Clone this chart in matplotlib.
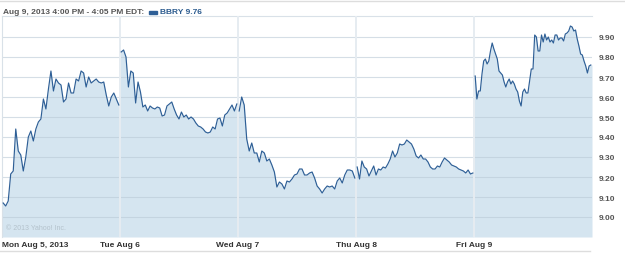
import numpy as np
import matplotlib
matplotlib.use('Agg')
import matplotlib.pyplot as plt

# BBRY 5-minute prices, one list per trading day
mon = [9.07, 9.055, 9.08, 9.215, 9.23, 9.44, 9.33, 9.31, 9.23, 9.30, 9.40, 9.43,
       9.38, 9.44, 9.475, 9.49, 9.59, 9.54, 9.64, 9.73, 9.63, 9.69, 9.67, 9.66,
       9.575, 9.59, 9.67, 9.62, 9.62, 9.69, 9.68, 9.73, 9.72, 9.65, 9.70, 9.67,
       9.68, 9.69, 9.675, 9.67, 9.675, 9.61, 9.555, 9.60, 9.62, 9.59, 9.56]
tue = [9.825, 9.835, 9.80, 9.65, 9.73, 9.72, 9.57, 9.675, 9.625, 9.55, 9.56, 9.53,
       9.555, 9.545, 9.54, 9.55, 9.545, 9.505, 9.51, 9.555, 9.565, 9.575, 9.54,
       9.51, 9.49, 9.525, 9.50, 9.51, 9.49, 9.50, 9.49, 9.47, 9.455, 9.45, 9.44,
       9.425, 9.42, 9.425, 9.45, 9.44, 9.49, 9.495, 9.455, 9.51, 9.52, 9.54, 9.56,
       9.53, 9.565]
wed = [9.53, 9.60, 9.56, 9.39, 9.33, 9.37, 9.32, 9.32, 9.275, 9.33, 9.32, 9.28,
       9.29, 9.26, 9.225, 9.15, 9.175, 9.165, 9.14, 9.18, 9.175, 9.19, 9.21, 9.215,
       9.24, 9.24, 9.21, 9.21, 9.22, 9.225, 9.195, 9.155, 9.14, 9.12, 9.14, 9.155,
       9.15, 9.155, 9.14, 9.18, 9.195, 9.17, 9.21, 9.235, 9.235, 9.23, 9.195]
thu = [9.25, 9.19, 9.28, 9.25, 9.24, 9.205, 9.23, 9.255, 9.21, 9.24, 9.235, 9.25,
       9.245, 9.265, 9.29, 9.33, 9.30, 9.32, 9.365, 9.36, 9.365, 9.385, 9.375,
       9.365, 9.34, 9.305, 9.295, 9.31, 9.29, 9.29, 9.275, 9.25, 9.24, 9.24, 9.255,
       9.25, 9.275, 9.295, 9.285, 9.275, 9.26, 9.255, 9.25, 9.24, 9.235, 9.23,
       9.22, 9.235, 9.215, 9.22]
fri = [9.705, 9.59, 9.63, 9.63, 9.715, 9.78, 9.79, 9.765, 9.78, 9.83, 9.87, 9.84,
       9.815, 9.79, 9.73, 9.72, 9.71, 9.675, 9.65, 9.675, 9.69, 9.665, 9.68, 9.665,
       9.64, 9.625, 9.58, 9.555, 9.625, 9.64, 9.62, 9.62, 9.68, 9.74, 9.74, 9.91,
       9.90, 9.83, 9.83, 9.91, 9.875, 9.915, 9.885, 9.90, 9.875, 9.885, 9.87, 9.91,
       9.91, 9.885, 9.895, 9.895, 9.88, 9.915, 9.92, 9.93, 9.955, 9.95, 9.93,
       9.935, 9.89, 9.855, 9.815, 9.81, 9.78, 9.755, 9.72, 9.755, 9.76]
days = [mon, tue, wed, thu, fri]
day_labels = ['Mon Aug 5, 2013', 'Tue Aug 6', 'Wed Aug 7', 'Thu Aug 8', 'Fri Aug 9']
price_ticks = [9.00, 9.10, 9.20, 9.30, 9.40, 9.50, 9.60, 9.70, 9.80, 9.90]
last_price = 9.76

line_color = '#2e5f96'
fill_color = '#d5e5f0'
font = ['Liberation Sans', 'DejaVu Sans']

fig = plt.figure(figsize=(6.25, 2.55), dpi=100)
ax = fig.add_axes([2 / 625, 1 - 238 / 255, 590 / 625, 221 / 255])
ymin, ymax = 8.90, 10.005

for i, prices in enumerate(days):
    x = np.linspace(i + 0.01, i + 0.99, len(prices))
    xf = np.concatenate([[i], x, [i + 1]])
    yf = np.concatenate([[prices[0]], prices, [prices[-1]]])
    ax.fill_between(xf, yf, ymin, color=fill_color, lw=0, zorder=1)
    ax.plot(x, prices, color=line_color, lw=0.85, zorder=4)

# grid on top of the fill
for t in price_ticks:
    ax.axhline(t, color='#b9c9d6', lw=0.8, alpha=0.6, zorder=2)
for i in range(1, 5):
    ax.axvline(i, color='#e6ecf1', lw=1.4, zorder=3)

ax.set_xlim(0, 5)
ax.set_ylim(ymin, ymax)
ax.set_xticks([])
ax.yaxis.tick_right()
ax.set_yticks(price_ticks)
ax.set_yticklabels([f'{t:.2f}' for t in price_ticks])
ax.tick_params(axis='y', length=0, pad=5, labelsize=6, labelcolor='#555555')
for lab in ax.get_yticklabels():
    lab.set_fontweight('bold')
    lab.set_family(font)
for s in ['top', 'left']:
    ax.spines[s].set_color('#d9e1e8')
    ax.spines[s].set_linewidth(0.8)
for s in ['right', 'bottom']:
    ax.spines[s].set_visible(False)

# day labels under the plot
for i, lab in enumerate(day_labels):
    ax.text(i, -0.02, lab, transform=ax.get_xaxis_transform(),
            ha='center' if i > 0 else 'left', va='top', fontsize=6,
            fontweight='bold', color='#333333', family=font)

ax.text(0.006, 0.035, '\u00a9 2013 Yahoo! Inc.', transform=ax.transAxes,
        fontsize=5, color='#b4c2cc', family=font)

# header
fig.text(3 / 625, 1 - 13 / 255, 'Aug 9, 2013 4:00 PM - 4:05 PM EDT:', fontsize=6,
         fontweight='bold', color='#555555', family=font, va='center')
fig.patches.append(plt.Rectangle((149 / 625, 1 - 15 / 255), 8 / 625, 3 / 255,
                                 transform=fig.transFigure, color=line_color))
fig.text(160 / 625, 1 - 13 / 255, f'BBRY {last_price:.2f}', fontsize=6,
         fontweight='bold', color='#2a5a8e', family=font, va='center')

# thin frame lines at top and bottom of the widget
fig.add_artist(plt.Line2D([0, 1], [1 - 2 / 255, 1 - 2 / 255], color='#dddddd', lw=1))
fig.add_artist(plt.Line2D([0, 590 / 625], [1 - 252 / 255, 1 - 252 / 255], color='#dddddd', lw=1))

fig.savefig('out.png', dpi=100)
